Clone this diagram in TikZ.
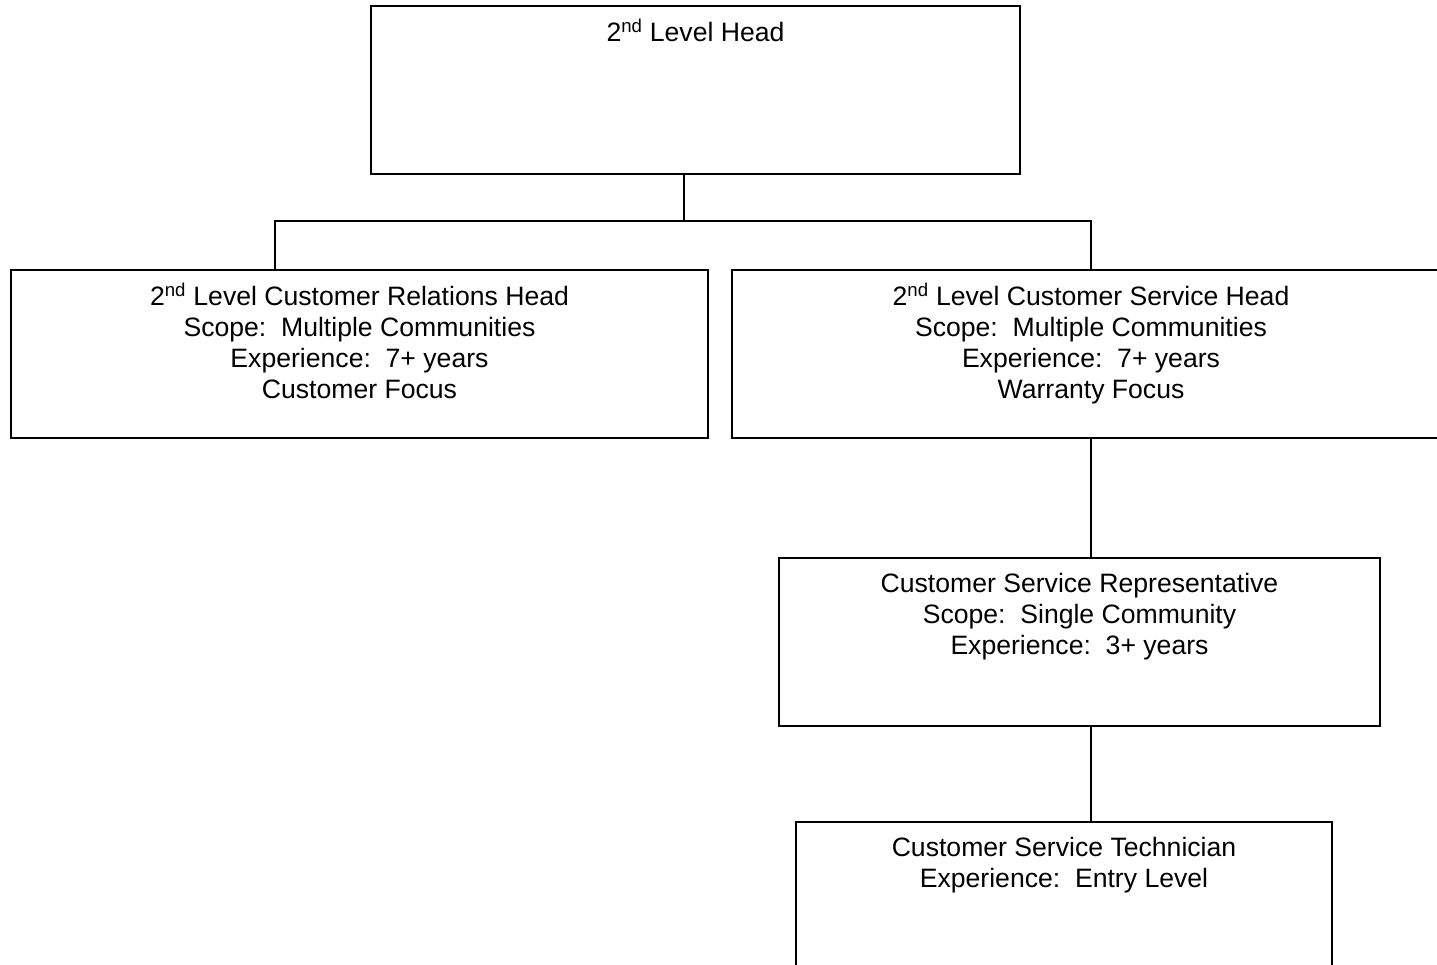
\documentclass[tikz,border=0pt]{standalone}
\usepackage{fontspec}
\setmainfont{Liberation Sans}
\begin{document}
\begin{tikzpicture}[x=1pt,y=-1pt,
  orgbox/.style={draw=black,line width=1.5pt,rectangle,inner sep=0pt},
  orgtext/.style={anchor=north,inner sep=0pt,align=center,yshift=-13.3pt,
    font=\fontsize{26.6}{31}\selectfont},
  link/.style={draw=black,line width=1.5pt}]
\useasboundingbox (0,0) rectangle (1437,964);
\clip (0,0) rectangle (1437,964);

% boxes
\node[orgbox,minimum width=649pt,minimum height=168pt] (top)  at (695.5,90) {};
\node[orgbox,minimum width=697pt,minimum height=168pt] (left) at (359.5,354) {};
\node[orgbox,minimum width=718pt,minimum height=168pt] (right) at (1091,354) {};
\node[orgbox,minimum width=601pt,minimum height=168pt] (rep)  at (1079.5,642) {};
\node[orgbox,minimum width=536pt,minimum height=168pt] (tech) at (1064,906) {};

% box texts
\node[orgtext] (topT) at (top.north) {\strut 2\textsuperscript{nd} Level Head};
\node[orgtext] (leftT) at (left.north) {\strut 2\textsuperscript{nd} Level Customer Relations Head\\Scope:\ \ Multiple Communities\\Experience:\ \ 7+ years\\Customer Focus};
\node[orgtext] (rightT) at (right.north) {\strut 2\textsuperscript{nd} Level Customer Service Head\\Scope:\ \ Multiple Communities\\Experience:\ \ 7+ years\\Warranty Focus};
\node[orgtext] (repT) at (rep.north) {\strut Customer Service Representative\\Scope:\ \ Single Community\\Experience:\ \ 3+ years};
\node[orgtext] (techT) at (tech.north) {\strut Customer Service Technician\\Experience:\ \ Entry Level};

% connectors
\coordinate (busM) at (684,221);
\coordinate (busL) at (275,221);
\coordinate (busR) at (1091,221);
\draw[link] (top.south -| busM) -- (busM);
\draw[link] (left.north -| busL) -- (busL) -- (busR) -- (right.north -| busR);
\draw[link] (right.south) -- (right.south |- rep.north);
\draw[link] (rep.south -| right.south) -- (tech.north -| right.south);
\end{tikzpicture}
\end{document}
